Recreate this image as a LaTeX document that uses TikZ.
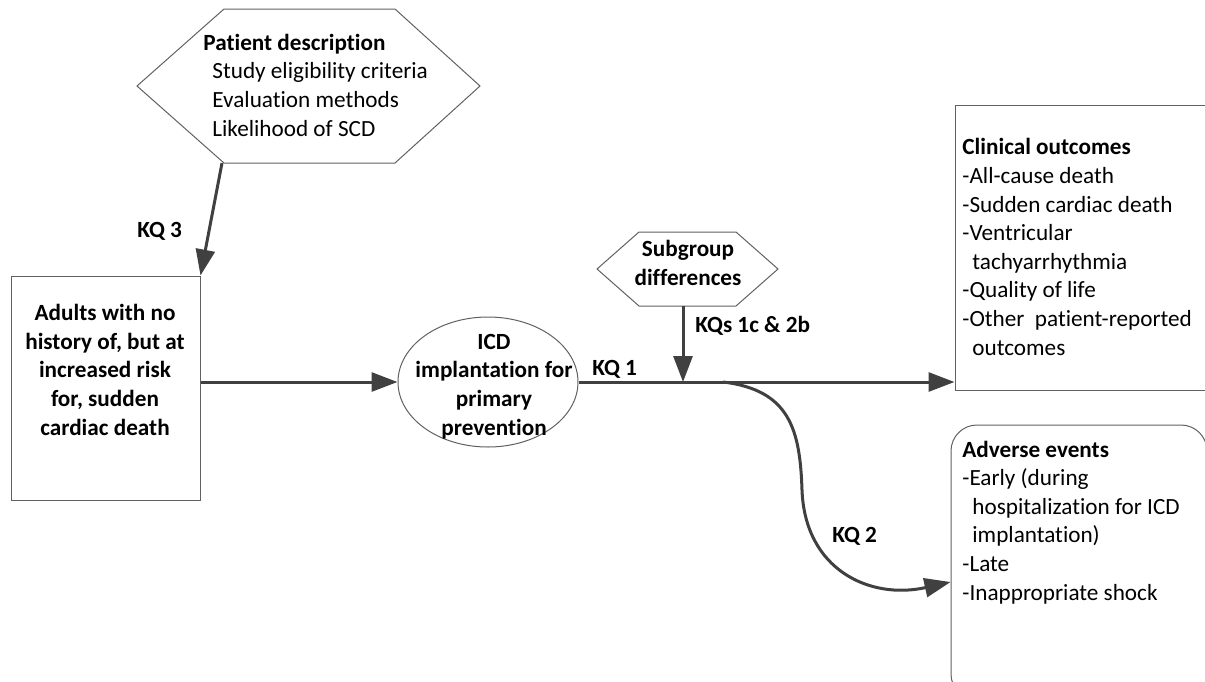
\documentclass[tikz,border=0pt]{standalone}
\usepackage{fontspec}
\setmainfont{Carlito}[Ligatures=NoCommon]
\usetikzlibrary{arrows.meta,shapes.geometric}

\begin{document}
\begin{tikzpicture}[x=0.5pt,y=-0.5pt,
    outline/.style={draw=black!62,line width=0.5pt},
    flow/.style={draw=black!75,line width=1.5pt,-{Triangle[length=13pt,width=9.5pt]}},
    body/.style={font=\fontsize{11.6}{14.3}\selectfont,align=left},
    bodybf/.style={font=\bfseries\fontsize{11.6}{14.3}\selectfont,align=center},
    kq/.style={font=\bfseries\fontsize{11.6}{14.3}\selectfont} ]
    \tikzstyle{every node}+=[inner sep=0pt]
    \useasboundingbox (0,0) rectangle (1205,681);
    \clip (0,0) rectangle (1205,681);
    % patient description (text nodes sit on the baseline of their last line)
    \draw [outline] (137,86) -- (224,9) -- (395,9) -- (480,86) -- (395,163) -- (224,163) -- cycle;
    \coordinate (ptdesc-sw) at (222,163);
    \node (ptdesc) [body,anchor=base west] at (203,136) {\textbf{Patient description}\\
        \hspace*{4.5pt}Study eligibility criteria\\
        \hspace*{4.5pt}Evaluation methods\\
        \hspace*{4.5pt}Likelihood of SCD};
    % population
    \node (adults) [outline,minimum width=94.5pt,minimum height=112pt] at (105.5,388) {};
    \node (adultstxt) [bodybf,anchor=base] at (105,435) {Adults with no\\history of, but at\\increased risk\\for, sudden\\cardiac death};
    % intervention
    \node (icd) [outline,ellipse,minimum width=90pt,minimum height=65pt] at (488,382) {};
    \node (icdtxt) [bodybf,anchor=base] at (494,435) {ICD\\implantation for\\primary\\prevention};
    % subgroups
    \draw [outline] (597,269) -- (639,232) -- (736,232) -- (778,269) -- (736,306) -- (639,306) -- cycle;
    \coordinate (subgrp-s) at (683,306);
    \node (subgrp) [bodybf,anchor=base] at (688,285) {Subgroup\\differences};
    % outcomes
    \node (clinical) [outline,minimum width=130pt,minimum height=142.5pt] at (1085,247.5) {};
    \node (clintxt) [body,anchor=base west] at (962,355) {\textbf{Clinical outcomes}\\
        -All-cause death\\
        -Sudden cardiac death\\
        -Ventricular\\
        \hspace*{5pt}tachyarrhythmia\\
        -Quality of life\\
        -Other\ \ patient-reported\\
        \hspace*{5pt}outcomes};
    \node (adverse) [outline,rounded corners=13pt,minimum width=128pt,minimum height=137.5pt] at (1079,562.5) {};
    \node (advtxt) [body,anchor=base west] at (962,600) {\textbf{Adverse events}\\
        -Early (during\\
        \hspace*{5pt}hospitalization for ICD\\
        \hspace*{5pt}implantation)\\
        -Late\\
        -Inappropriate shock};
    % key questions
    \draw [flow] (ptdesc-sw) -- (adults.north east);
    \node (kq3) [kq,anchor=base west] at (137,237) {KQ 3};
    \draw [flow] (adults.east |- icd.west) -- (icd.west);
    \draw [flow] (icd.east) -- (icd.east -| clinical.west);
    \node (kq1) [kq,anchor=base west] at (592,375) {KQ 1};
    \draw [flow] (subgrp-s) -- (subgrp-s |- icd.east);
    \node (kq1c) [kq,anchor=base west] at (695,332) {KQs 1c \& 2b};
    \coordinate (branch) at (723,382);
    \draw [flow] (branch) .. controls (790,390) and (800,430) .. (802,490)
        .. controls (805,570) and (870,600) .. (adverse.west |- 0,582);
    \node (kq2) [kq,anchor=base west] at (832,542) {KQ 2};
\end{tikzpicture}
\end{document}
